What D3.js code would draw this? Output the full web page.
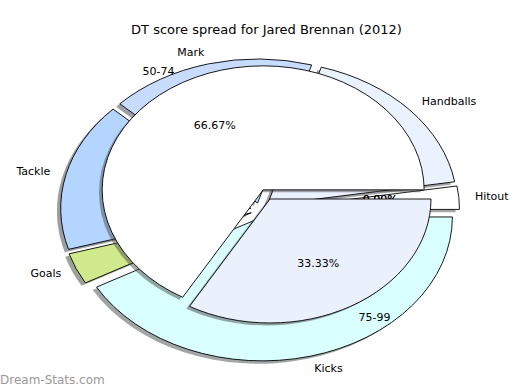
<!DOCTYPE html>
<html>
<head>
<meta charset="utf-8">
<script src="https://cdn.jsdelivr.net/npm/d3@7"></script>
<style>
  body { margin: 0; background: #fff; }
  svg { display: block; font-family: "DejaVu Sans", sans-serif; }
</style>
</head>
<body>
<div id="vis"></div>
<script>
const width = 520, height = 390;

// outer ring: share of DT score by stat
const outerLabels = ["Hitout", "Handballs", "Mark", "Tackle", "Goals", "Kicks"];
const outerValues = [2.6, 17.8, 17.5, 16.7, 3.5, 41.9];
const outerColors = ["#ffffff", "#eaf1ff", "#c7dcff", "#b3d5ff", "#cfe98c", "#d9ffff"];
const outerExplode = [0.05, 0.05, 0.05, 0.05, 0.05, 0.05];

// inner pie: score brackets
const innerLabels = ["<50", "50-74", "75-99", "100+"];
const innerValues = [0, 66.67, 33.33, 0];
const innerColors = ["#ffffff", "#ffffff", "#ebf0fd", "#ffffff"];
const innerExplode = [0.085, 0.085, 0, 0.085];

const pctDist = 0.6, shadowOff = 0.02;

// each pie gets its own "axes": unit radius mapped to pixels
const outerX = d3.scaleLinear().domain([-1, 1]).range([70, 450]);
const outerY = d3.scaleLinear().domain([-1, 1]).range([354, 66]);
const innerX = d3.scaleLinear().domain([-1, 1]).range([109, 431]);
const innerY = d3.scaleLinear().domain([-1, 1]).range([323, 75]);

const svg = d3.select('#vis')
    .append('svg')
    .attr('width', width)
    .attr('height', height);

svg.append("text")
    .attr("x", 266.5)
    .attr("y", 34)
    .attr("text-anchor", "middle")
    .style("font-size", "13px")
    .text("DT score spread for Jared Brennan (2012)");

// counter-clockwise from 3 o'clock
const pie = d3.pie().sort(null).value(d => d)
    .startAngle(Math.PI / 2)
    .endAngle(Math.PI / 2 - 2 * Math.PI);
const arc = d3.arc().innerRadius(0).outerRadius(1);

function layout(values, explode, xS, yS) {
    const cx = xS(0), cy = yS(0);
    const rx = xS(1) - cx, ry = cy - yS(1);
    return pie(values).map((p, i) => {
        const mid = (p.startAngle + p.endAngle) / 2;
        const e = explode[i];
        return {
            p, i, mid, cx, cy, rx, ry, e,
            ox: cx + rx * e * Math.sin(mid),
            oy: cy - ry * e * Math.cos(mid)
        };
    });
}

function shadows(g, slices, colors) {
    g.selectAll(null)
        .data(slices.filter(d => d.p.value > 0))
        .enter()
        .append("path")
        .attr("d", d => arc(d.p))
        .attr("transform", d => `translate(${d.ox - shadowOff * d.rx},${d.oy + shadowOff * d.ry}) scale(${d.rx},${d.ry})`)
        .attr("fill", d => {
            const c = d3.rgb(colors[d.i]);
            return d3.rgb(c.r * 0.3, c.g * 0.3, c.b * 0.3);
        })
        .attr("fill-opacity", 0.5);
}

function wedges(g, slices, colors) {
    g.selectAll(null)
        .data(slices.filter(d => d.p.value > 0))
        .enter()
        .append("path")
        .attr("d", d => arc(d.p))
        .attr("transform", d => `translate(${d.ox},${d.oy}) scale(${d.rx},${d.ry})`)
        .attr("fill", d => colors[d.i])
        .attr("stroke", "#000")
        .attr("stroke-width", 0.9)
        .attr("vector-effect", "non-scaling-stroke");
}

function names(g, slices, labels, dist) {
    g.selectAll(null)
        .data(slices.filter(d => d.p.value > 0))
        .enter()
        .append("text")
        .attr("x", d => d.cx + d.rx * (dist + d.e) * Math.sin(d.mid))
        .attr("y", d => d.cy - d.ry * (dist + d.e) * Math.cos(d.mid))
        .attr("text-anchor", d => Math.sin(d.mid) < 0 ? "end" : "start")
        .attr("dominant-baseline", "central")
        .style("font-size", "11px")
        .text(d => labels[d.i]);
}

function pcts(g, slices, values) {
    const total = d3.sum(values);
    g.selectAll(null)
        .data(slices)
        .enter()
        .append("text")
        .attr("x", d => d.cx + d.rx * (pctDist + d.e) * Math.sin(d.mid))
        .attr("y", d => d.cy - d.ry * (pctDist + d.e) * Math.cos(d.mid))
        .attr("text-anchor", "middle")
        .attr("dominant-baseline", "central")
        .style("font-size", "11px")
        .text(d => (d.p.value / total * 100).toFixed(2) + "%");
}

// outer ring
const outer = layout(outerValues, outerExplode, outerX, outerY);
const gOuter = svg.append("g");
shadows(gOuter, outer, outerColors);
wedges(gOuter, outer, outerColors);
names(gOuter, outer, outerLabels, 1.085);

// inner pie (empty brackets sit underneath)
const inner = layout(innerValues, innerExplode, innerX, innerY);
const gInner = svg.append("g");
pcts(gInner, inner.filter(d => d.p.value === 0), innerValues);
shadows(gInner, inner, innerColors);
wedges(gInner, inner, innerColors);
names(gInner, inner, innerLabels, 1.1);
pcts(gInner, inner.filter(d => d.p.value > 0), innerValues);

// watermark
svg.append("text")
    .attr("x", 0)
    .attr("y", 384)
    .style("font-size", "12px")
    .style("fill", "#9a9a9a")
    .text("Dream-Stats.com");
</script>
</body>
</html>
